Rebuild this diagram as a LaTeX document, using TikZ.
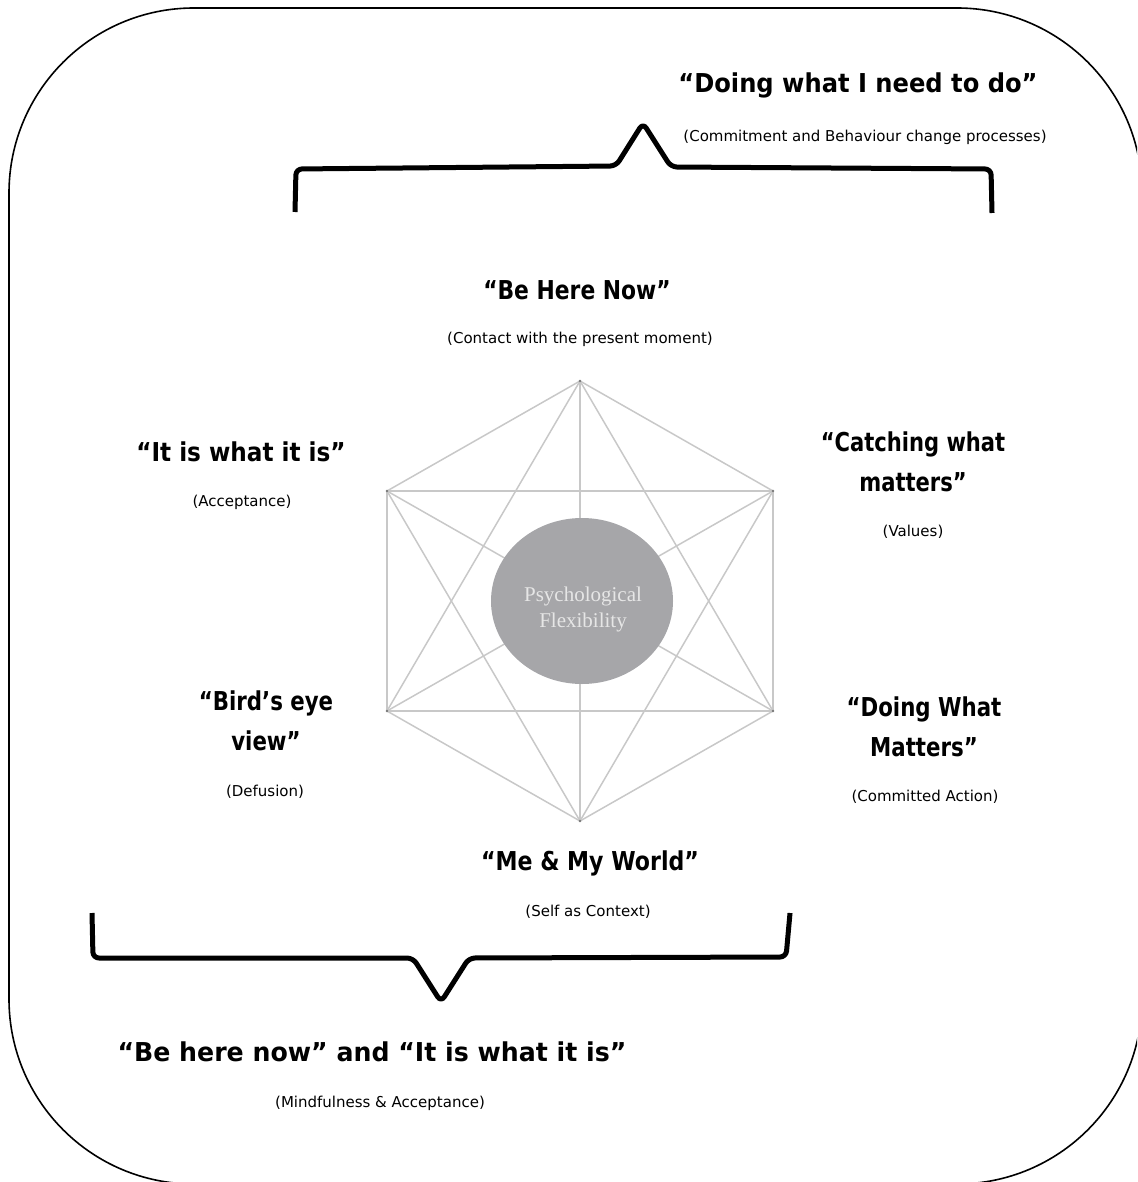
\documentclass[tikz,border=0pt]{standalone}
\usepackage{fontspec}
\setmainfont{DejaVu Sans}
\newfontfamily\serifpf{Liberation Serif}
\usetikzlibrary{shapes.geometric}
\definecolor{hexline}{RGB}{200,200,200}
\definecolor{hexdot}{RGB}{120,120,120}
\definecolor{ellfill}{RGB}{166,166,169}
\definecolor{elltext}{RGB}{230,230,230}
\begin{document}
\begin{tikzpicture}[x=1pt,y=-1pt,
  head/.style={font=\fontsize{26}{40}\selectfont\bfseries\addfontfeature{FakeStretch=#1}, align=center, inner sep=0pt},
  subt/.style={font=\fontsize{15}{18}\selectfont, inner sep=0pt},
  bracket/.style={line width=5pt, rounded corners=6pt, line join=round},
  hexedge/.style={draw=hexline, line width=1.5pt},
  frame/.style={line width=1.6pt, rounded corners=185pt}]
\useasboundingbox (0,0) rectangle (1137,1182);
\clip (0,0) rectangle (1137,1182);
\draw[frame] (9,8) rectangle (1142,1184);

% hexagon vertices
\coordinate (T)  at (580,381);
\coordinate (UL) at (387,491);
\coordinate (UR) at (773,491);
\coordinate (LL) at (387,711);
\coordinate (LR) at (773,711);
\coordinate (B)  at (580,821);
\foreach \a/\b in {T/UL,T/UR,T/LL,T/LR,T/B,UL/UR,UL/LL,UL/LR,UL/B,UR/LL,UR/LR,UR/B,LL/LR,LL/B,LR/B}
  \draw[hexedge] (\a) -- (\b);
\foreach \v in {T,UL,UR,LL,LR,B}
  \fill[hexdot] (\v) circle (1.3pt);

\node[ellipse, fill=ellfill, minimum width=182pt, minimum height=166pt, inner sep=0pt] (pf) at (582,601) {};
\node[font=\serifpf\fontsize{21}{26}\selectfont, text=elltext, align=center, inner sep=0pt] (pft) at (583,609) {Psychological\\Flexibility};

% brackets
\draw[bracket] (295,212) -- (296,169) -- (616,166) -- (643,123) -- (671,167) -- (991,169) -- (992,213);
\draw[bracket] (92,913) -- (93,958) -- (413,958) -- (441,1002) -- (469,958) -- (786,957) -- (790,913);

% labels
\node[head=0.93] (doing) at (858,85) {“Doing what I need to do”};
\node[subt] (doingS) at (865,137) {(Commitment and Behaviour change processes)};

\node[head=0.84] (now) at (577,290) {“Be Here Now”};
\node[subt] (nowS) at (580,339) {(Contact with the present moment)};

\node[head=0.89] (accept) at (241,452) {“It is what it is”};
\node[subt] (acceptS) at (242,502) {(Acceptance)};

\node[head=0.81] (values) at (913,462) {“Catching what\\matters”};
\node[subt] (valuesS) at (913,532) {(Values)};

\node[head=0.82] (defus) at (266,721) {“Bird’s eye\\view”};
\node[subt] (defusS) at (265,792) {(Defusion)};

\node[head=0.82] (action) at (924,727) {“Doing What\\Matters”};
\node[subt] (actionS) at (925,797) {(Committed Action)};

\node[head=0.85] (self) at (590,863) {“Me \& My World”};
\node[subt] (selfS) at (588,912) {(Self as Context)};

\node[head=0.97] (mind) at (372,1052) {“Be here now” and “It is what it is”};
\node[subt] (mindS) at (380,1103) {(Mindfulness \& Acceptance)};
\end{tikzpicture}
\end{document}
